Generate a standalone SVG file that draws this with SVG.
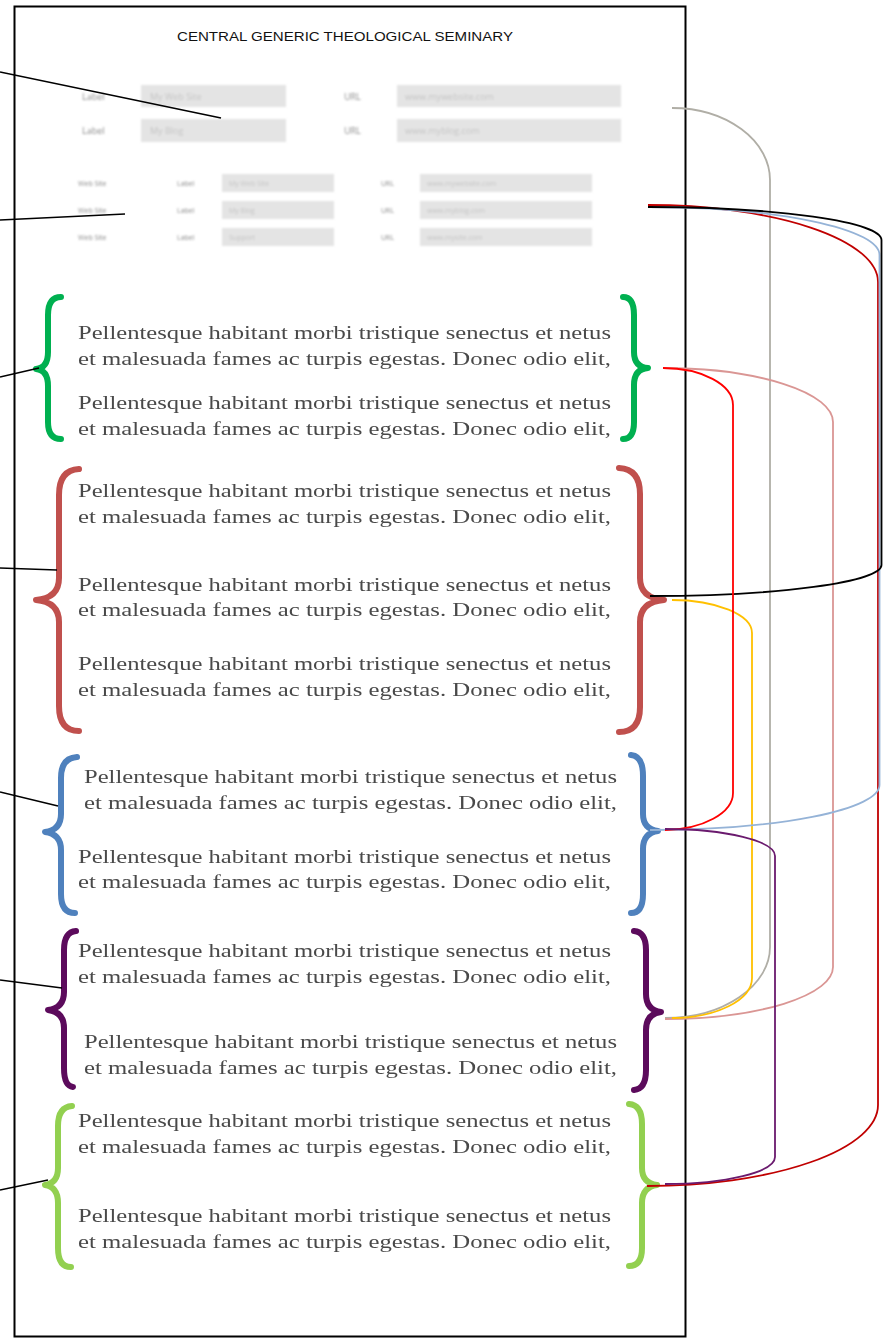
<svg xmlns="http://www.w3.org/2000/svg" width="888" height="1340" viewBox="0 0 888 1340">
<defs>
<filter id="blur" x="-5%" y="-20%" width="110%" height="140%"><feGaussianBlur stdDeviation="0.7"/></filter>
<filter id="blur2" x="-5%" y="-20%" width="110%" height="140%"><feGaussianBlur stdDeviation="1"/></filter>
</defs>
<style>
.page{fill:#fff;stroke:#000;stroke-width:2}
.title{font-family:"Liberation Sans",Arial,sans-serif;font-size:13.5px;fill:#111}
.lbl{font-family:"Open Sans","Liberation Sans",sans-serif;font-size:9px;fill:#8a8a8a}
.lbls{font-family:"Open Sans","Liberation Sans",sans-serif;font-size:7px;fill:#8a8a8a}
.box{fill:#e4e4e4}
.ph{font-family:"Open Sans","Liberation Sans",sans-serif;font-size:9px;fill:#c4c4c4}
.phs{font-family:"Open Sans","Liberation Sans",sans-serif;font-size:7px;fill:#c4c4c4}
.para{font-family:"Liberation Serif","Times New Roman",serif;font-size:18px;fill:#4a4a4a}
.brace{fill:none;stroke-width:6;stroke-linecap:round;stroke-linejoin:round}
.call{fill:none;stroke:#000;stroke-width:1.6}
.conn{fill:none;stroke-width:1.8}
</style>
<rect class="page" x="14.5" y="6.5" width="671" height="1330"/>
<g id="title"><text class="title" x="345" y="41" text-anchor="middle" textLength="336" lengthAdjust="spacingAndGlyphs">CENTRAL GENERIC THEOLOGICAL SEMINARY</text></g>
<g id="form1" filter="url(#blur2)">
<text class="lbl" x="82" y="100">Label</text>
<rect class="box" x="141" y="85" width="145" height="22"/>
<text class="ph" x="150" y="100">My Web Site</text>
<text class="lbl" x="344" y="100">URL</text>
<rect class="box" x="397" y="85" width="224" height="22"/>
<text class="ph" x="405" y="100">www.mywebsite.com</text>
<text class="lbl" x="82" y="134">Label</text>
<rect class="box" x="141" y="119" width="145" height="23"/>
<text class="ph" x="150" y="134">My Blog</text>
<text class="lbl" x="344" y="134">URL</text>
<rect class="box" x="397" y="119" width="224" height="23"/>
<text class="ph" x="405" y="134">www.myblog.com</text>
</g>
<g id="form2" filter="url(#blur2)">
<text class="lbls" x="78" y="186">Web Site</text>
<text class="lbls" x="177" y="186">Label</text>
<rect class="box" x="222" y="174" width="112" height="18"/>
<text class="phs" x="229" y="186">My Web Site</text>
<text class="lbls" x="381" y="186">URL</text>
<rect class="box" x="420" y="174" width="172" height="18"/>
<text class="phs" x="427" y="186">www.mywebsite.com</text>
<text class="lbls" x="78" y="213">Web Site</text>
<text class="lbls" x="177" y="213">Label</text>
<rect class="box" x="222" y="201" width="112" height="18"/>
<text class="phs" x="229" y="213">My Blog</text>
<text class="lbls" x="381" y="213">URL</text>
<rect class="box" x="420" y="201" width="172" height="18"/>
<text class="phs" x="427" y="213">www.myblog.com</text>
<text class="lbls" x="78" y="240">Web Site</text>
<text class="lbls" x="177" y="240">Label</text>
<rect class="box" x="222" y="228" width="112" height="18"/>
<text class="phs" x="229" y="240">Support</text>
<text class="lbls" x="381" y="240">URL</text>
<rect class="box" x="420" y="228" width="172" height="18"/>
<text class="phs" x="427" y="240">www.mysite.com</text>
</g>
<g id="block-green">
<g filter="url(#blur)">
<text class="para" x="78" y="339" textLength="533" lengthAdjust="spacingAndGlyphs">Pellentesque habitant morbi tristique senectus et netus</text>
<text class="para" x="78" y="365" textLength="533" lengthAdjust="spacingAndGlyphs">et malesuada fames ac turpis egestas. Donec odio elit,</text>
<text class="para" x="78" y="409" textLength="533" lengthAdjust="spacingAndGlyphs">Pellentesque habitant morbi tristique senectus et netus</text>
<text class="para" x="78" y="435" textLength="533" lengthAdjust="spacingAndGlyphs">et malesuada fames ac turpis egestas. Donec odio elit,</text>
</g>
<path class="brace" stroke="#00b050" stroke-width="5" d="M61,297 Q48,297 48,315 L48,352 Q48,368 36,369 Q48,370 48,386 L48,422 Q48,439 61,439"/>
<path class="brace" stroke="#00b050" stroke-width="5" d="M623,297 Q634,297 634,315 L634,352 Q634,367 648,368 Q634,369 634,385 L634,422 Q634,439 623,439"/>
</g>
<g id="block-red">
<g filter="url(#blur)">
<text class="para" x="78" y="497" textLength="533" lengthAdjust="spacingAndGlyphs">Pellentesque habitant morbi tristique senectus et netus</text>
<text class="para" x="78" y="523" textLength="533" lengthAdjust="spacingAndGlyphs">et malesuada fames ac turpis egestas. Donec odio elit,</text>
<text class="para" x="78" y="591" textLength="533" lengthAdjust="spacingAndGlyphs">Pellentesque habitant morbi tristique senectus et netus</text>
<text class="para" x="78" y="616" textLength="533" lengthAdjust="spacingAndGlyphs">et malesuada fames ac turpis egestas. Donec odio elit,</text>
<text class="para" x="78" y="670" textLength="533" lengthAdjust="spacingAndGlyphs">Pellentesque habitant morbi tristique senectus et netus</text>
<text class="para" x="78" y="696" textLength="533" lengthAdjust="spacingAndGlyphs">et malesuada fames ac turpis egestas. Donec odio elit,</text>
</g>
<path class="brace" stroke="#c0504d" d="M79,469 Q59,470 59,495 L59,578 Q59,598 36,600 Q59,602 59,622 L59,706 Q59,731 79,731"/>
<path class="brace" stroke="#c0504d" d="M619,468 Q640,469 640,494 L640,578 Q640,598 664,600 Q640,602 640,622 L640,707 Q640,732 619,732"/>
</g>
<g id="block-blue">
<g filter="url(#blur)">
<text class="para" x="84" y="783" textLength="533" lengthAdjust="spacingAndGlyphs">Pellentesque habitant morbi tristique senectus et netus</text>
<text class="para" x="84" y="809" textLength="533" lengthAdjust="spacingAndGlyphs">et malesuada fames ac turpis egestas. Donec odio elit,</text>
<text class="para" x="78" y="863" textLength="533" lengthAdjust="spacingAndGlyphs">Pellentesque habitant morbi tristique senectus et netus</text>
<text class="para" x="78" y="888" textLength="533" lengthAdjust="spacingAndGlyphs">et malesuada fames ac turpis egestas. Donec odio elit,</text>
</g>
<path class="brace" stroke="#4f81bd" d="M77,757 Q61,758 61,778 L61,814 Q61,830 45,832 Q61,834 61,850 L61,894 Q61,913 75,913"/>
<path class="brace" stroke="#4f81bd" d="M631,755 Q643,756 643,776 L643,814 Q643,829 658,831 Q643,833 643,849 L643,894 Q643,913 631,913"/>
</g>
<g id="block-purple">
<g filter="url(#blur)">
<text class="para" x="78" y="957" textLength="533" lengthAdjust="spacingAndGlyphs">Pellentesque habitant morbi tristique senectus et netus</text>
<text class="para" x="78" y="983" textLength="533" lengthAdjust="spacingAndGlyphs">et malesuada fames ac turpis egestas. Donec odio elit,</text>
<text class="para" x="84" y="1048" textLength="533" lengthAdjust="spacingAndGlyphs">Pellentesque habitant morbi tristique senectus et netus</text>
<text class="para" x="84" y="1074" textLength="533" lengthAdjust="spacingAndGlyphs">et malesuada fames ac turpis egestas. Donec odio elit,</text>
</g>
<path class="brace" stroke="#5c0b5c" d="M76,931 Q64,932 64,950 L64,992 Q64,1008 48,1010 Q64,1012 64,1028 L64,1068 Q64,1086 73,1087"/>
<path class="brace" stroke="#5c0b5c" d="M634,931 Q646,932 646,950 L646,994 Q646,1010 661,1012 Q646,1014 646,1030 L646,1070 Q646,1089 634,1090"/>
</g>
<g id="block-lightgreen">
<g filter="url(#blur)">
<text class="para" x="78" y="1127" textLength="533" lengthAdjust="spacingAndGlyphs">Pellentesque habitant morbi tristique senectus et netus</text>
<text class="para" x="78" y="1153" textLength="533" lengthAdjust="spacingAndGlyphs">et malesuada fames ac turpis egestas. Donec odio elit,</text>
<text class="para" x="78" y="1222" textLength="533" lengthAdjust="spacingAndGlyphs">Pellentesque habitant morbi tristique senectus et netus</text>
<text class="para" x="78" y="1248" textLength="533" lengthAdjust="spacingAndGlyphs">et malesuada fames ac turpis egestas. Donec odio elit,</text>
</g>
<path class="brace" stroke="#92d050" stroke-width="5" d="M72,1106 Q58,1107 58,1126 L58,1168 Q58,1183 45,1185 Q58,1187 58,1203 L58,1248 Q58,1267 71,1267"/>
<path class="brace" stroke="#92d050" stroke-width="5" d="M629,1104 Q642,1105 642,1124 L642,1168 Q642,1183 657,1185 Q642,1187 642,1203 L642,1248 Q642,1266 629,1266"/>
</g>
<g id="connectors">
<line class="call" x1="0" y1="72" x2="221" y2="118"/>
<line class="call" x1="0" y1="220" x2="125" y2="214"/>
<line class="call" x1="0" y1="377" x2="39" y2="368"/>
<line class="call" x1="0" y1="568" x2="57" y2="570"/>
<line class="call" x1="0" y1="792" x2="58" y2="806"/>
<line class="call" x1="0" y1="980" x2="62" y2="988"/>
<line class="call" x1="0" y1="1190" x2="48" y2="1180"/>
<path class="conn" stroke="#b0aea6" d="M672,108 A98,72 0 0 1 770,180 L770,947 A105,71 0 0 1 665,1018"/>
<path class="conn" stroke="#da9694" d="M663,368 A170,54 0 0 1 833,422 L833,967 A168,52 0 0 1 665,1019"/>
<path class="conn" stroke="#ffc000" d="M672,600 A80,33 0 0 1 752,633 L752,978 A80,40 0 0 1 672,1018"/>
<path class="conn" stroke="#c00000" d="M648,205 A230,77 0 0 1 878,282 L878,1105 A231,81 0 0 1 647,1186"/>
<path class="conn" stroke="#95b3d7" d="M648,207 A231,48 0 0 1 879.5,255 L879.5,785 A229,45 0 0 1 650,830"/>
<path class="conn" stroke="#000" d="M648,207 A233,33 0 0 1 881.5,240 L881.5,565 A231,31 0 0 1 650,596"/>
<path class="conn" stroke="#ff0000" d="M663,368 A70,37 0 0 1 733,405 L733,793 A70,37 0 0 1 665,830"/>
<path class="conn" stroke="#6a1a6e" d="M665,829 A110,27 0 0 1 775,856 L775,1157 A110,27 0 0 1 665,1184"/>
</g>
</svg>
